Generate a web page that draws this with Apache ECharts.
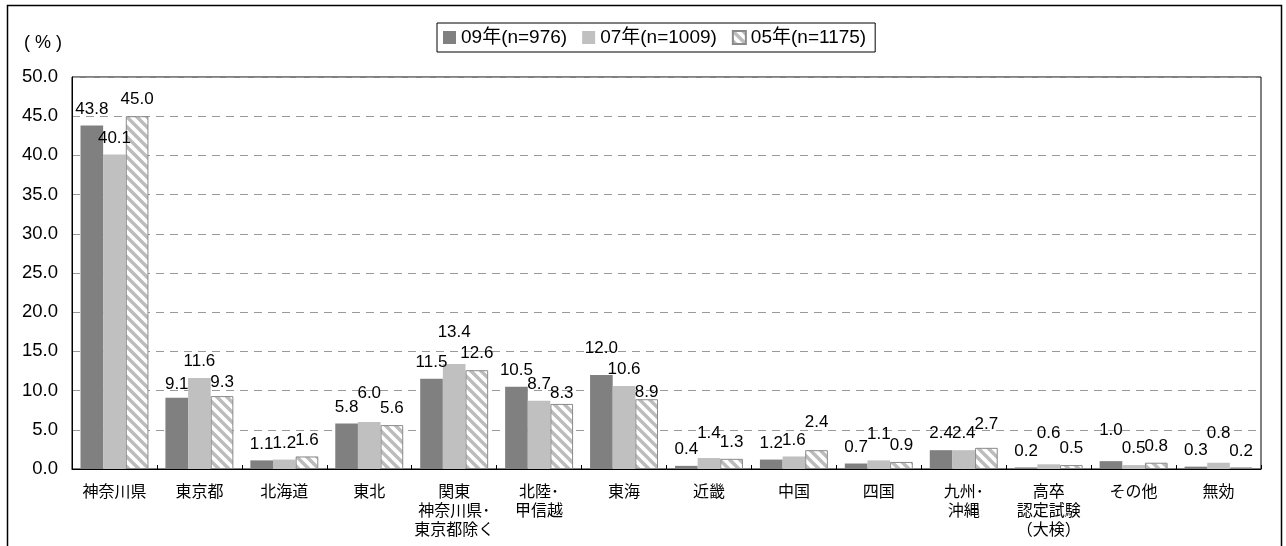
<!DOCTYPE html>
<html>
<head>
<meta charset="utf-8">
<style>
  html, body { margin: 0; padding: 0; background: #fff; }
  #chart { width: 1286px; height: 546px; }
</style>
<script src="https://cdn.jsdelivr.net/npm/echarts@6/dist/echarts.min.js"></script>
</head>
<body>
<div id="chart"></div>
<script>
// 出身地の分布（%）
const categories = [
  '神奈川県', '東京都', '北海道', '東北', '関東\n神奈川県･\n東京都除く',
  '北陸･\n甲信越', '東海', '近畿', '中国', '四国', '九州･\n沖縄',
  '高卒\n認定試験\n（大検）', 'その他', '無効'
];
const seriesNames = ['09年(n=976)', '07年(n=1009)', '05年(n=1175)'];
const values09 = [43.8, 9.1, 1.1, 5.8, 11.5, 10.5, 12.0, 0.4, 1.2, 0.7, 2.4, 0.2, 1.0, 0.3];
const values07 = [40.1, 11.6, 1.2, 6.0, 13.4, 8.7, 10.6, 1.4, 1.6, 1.1, 2.4, 0.6, 0.5, 0.8];
const values05 = [45.0, 9.3, 1.6, 5.6, 12.6, 8.3, 8.9, 1.3, 2.4, 0.9, 2.7, 0.5, 0.8, 0.2];
const yTicks = { min: 0, max: 50, interval: 5 };

// Extra vertical nudges (px, up = positive) for labels that sit apart from the default spot
const labelLift = [
  { 1: -3, 6: 10, 12: 14 },
  { 3: 12, 4: 15, 7: 8, 9: 10, 11: 14, 13: 13 },
  { 1: -3, 5: -6, 6: -10, 8: 11, 10: 7 }
];

const NUM_FONT = "'Liberation Sans', Arial, 'Noto Sans CJK JP', sans-serif";
const JP_FONT = "'Noto Sans CJK JP', 'Liberation Sans', sans-serif";

// Diagonal hatch fill for the 05 series
function makeHatch() {
  const size = 10;
  const c = document.createElement('canvas');
  c.width = size; c.height = size;
  const g = c.getContext('2d');
  g.fillStyle = '#ffffff';
  g.fillRect(0, 0, size, size);
  g.strokeStyle = '#bcbcbc';
  g.lineWidth = 3.4;
  g.beginPath();
  for (let k = -1; k <= 1; k++) {
    g.moveTo(k * size - 2, -2);
    g.lineTo(k * size + size + 2, size + 2);
  }
  g.stroke();
  return c;
}

const styles = [
  { color: '#808080' },
  { color: '#c0c0c0' },
  { color: { image: makeHatch(), repeat: 'repeat' }, borderColor: '#8a8a8a', borderWidth: 1 }
];
const allValues = [values09, values07, values05];

const chart = echarts.init(document.getElementById('chart'), null, { renderer: 'canvas' });

chart.setOption({
  animation: false,
  backgroundColor: '#ffffff',
  graphic: [
    {
      type: 'rect',
      shape: { x: 7.5, y: 5.5, width: 1274, height: 600 },
      style: { fill: 'none', stroke: '#000', lineWidth: 1.5 },
      silent: true
    },
    {
      type: 'text',
      left: 24, top: 34,
      style: { text: '( % )', font: "18px 'Liberation Sans'", fill: '#000' },
      silent: true
    }
  ],
  legend: {
    left: 437, top: 23,
    padding: [5, 9, 5, 6],
    icon: 'rect',
    itemWidth: 13, itemHeight: 13,
    itemGap: 15,
    borderColor: '#000', borderWidth: 1,
    textStyle: { fontFamily: NUM_FONT, fontSize: 19, color: '#000' },
    data: seriesNames
  },
  grid: {
    left: 72, right: 25, top: 77, bottom: 77,
    show: true, borderColor: '#000', borderWidth: 1
  },
  xAxis: {
    type: 'category',
    data: categories,
    axisLine: { lineStyle: { color: '#000', width: 1 } },
    axisTick: { show: true, inside: true, length: 4, alignWithLabel: false, lineStyle: { color: '#000' } },
    axisLabel: {
      interval: 0, margin: 12,
      fontFamily: JP_FONT, fontSize: 16, lineHeight: 19, color: '#000'
    }
  },
  yAxis: {
    type: 'value',
    min: yTicks.min, max: yTicks.max, interval: yTicks.interval,
    axisLine: { show: true, lineStyle: { color: '#000' } },
    axisTick: { show: false },
    axisLabel: {
      fontFamily: NUM_FONT, fontSize: 18.5, color: '#000', margin: 14,
      formatter: v => v.toFixed(1)
    },
    splitLine: { lineStyle: { color: '#9a9a9a', type: [8, 6], width: 1 } }
  },
  series: seriesNames.map((name, s) => ({
    name,
    type: 'bar',
    barGap: '0%',
    barCategoryGap: '20%',
    itemStyle: styles[s],
    label: {
      show: true, position: 'top', distance: 8,
      fontFamily: NUM_FONT, fontSize: 17, color: '#000',
      formatter: p => Number(p.value).toFixed(1)
    },
    labelLayout: p => ({ dy: -(labelLift[s][p.dataIndex] || 0) }),
    data: allValues[s]
  }))
});
</script>
</body>
</html>
